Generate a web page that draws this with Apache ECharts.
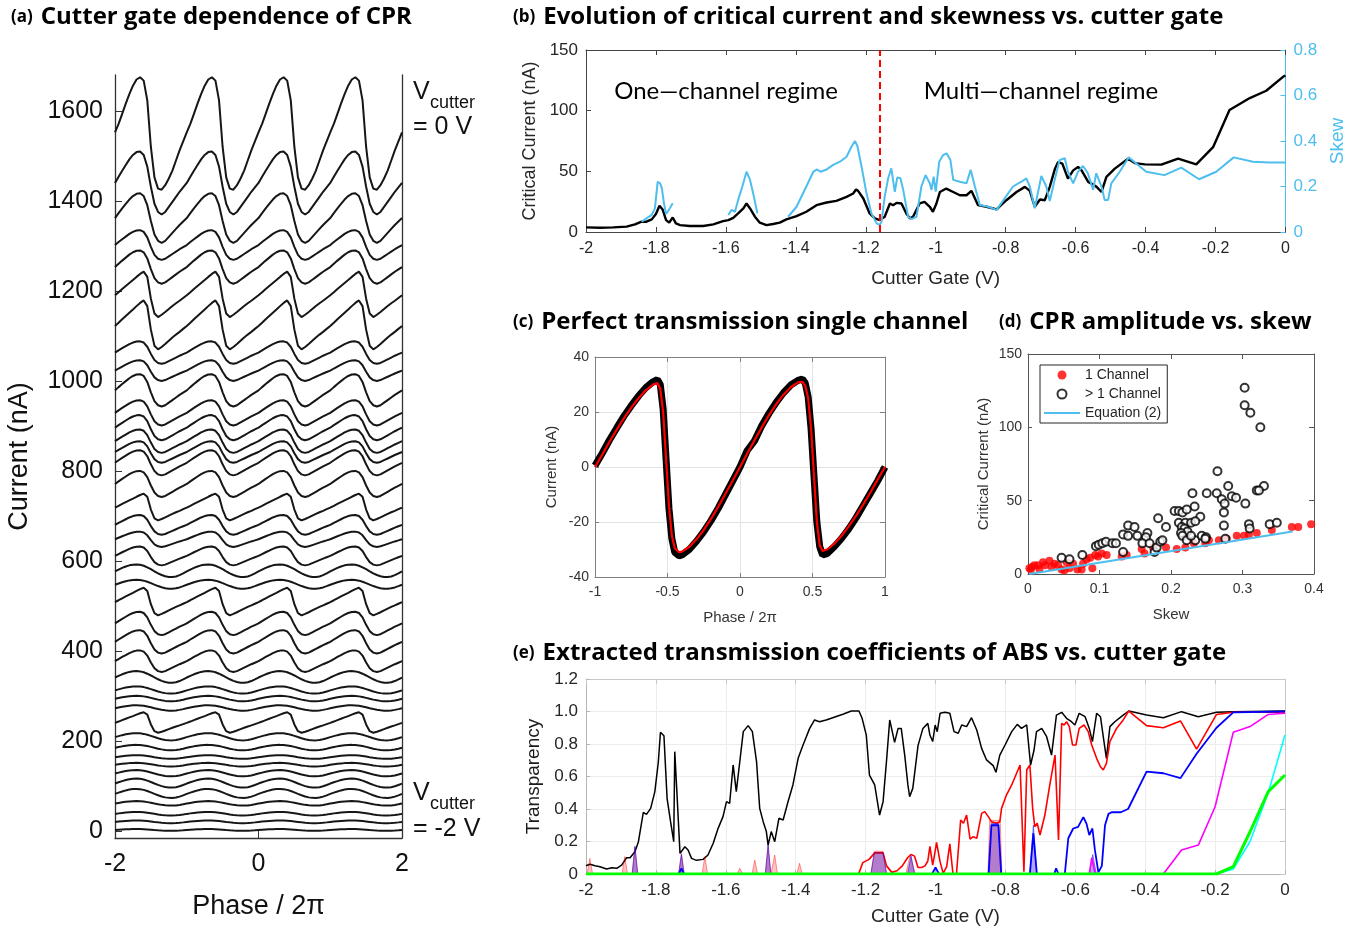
<!DOCTYPE html>
<html><head><meta charset="utf-8">
<script src="https://cdn.jsdelivr.net/npm/echarts@6/dist/echarts.min.js"></script>
<style>html,body{margin:0;padding:0;background:#fff}#c{width:1355px;height:933px}</style>
</head><body><div id="c"></div>
<script>
// ---------- (a) CPR traces ----------
const aLevels = [1550,1440,1362,1302,1253,1193,1125,1063,1023,979,929,896,866,842,818,771,720,680,648,611,578,548,510,461,420,377,342,313,294,273,241,209,185,164,147,128,106,83,61,38,20,2];
const aAmps   = [125,70,55,33,37,51,55,25,23,36,28,28,26,24,28,29,30,22,17,21,14,10,31,26,26,24,13,8,6,6,23,8,6,4,4,7,10,10,5,4,3,2];
const aShapes = ['T','M','M','M','M','S','S','M','M','M','M','M','M','M','M','M','S','M','M','M','W','W','S','M','M','M','W','W','W','W','S','W','W','W','W','W','W','W','W','W','W','W'];
// one period of each trace shape (21 samples, normalised)
const shapeT = [0.02,0.17,0.35,0.53,0.70,0.85,0.96,1.0,0.94,0.59,-0.24,-0.78,-0.98,-1.0,-0.92,-0.80,-0.66,-0.48,-0.30,-0.14,0.02];
const shapeM = [0.0,0.2,0.39,0.57,0.75,0.89,0.98,1.0,0.89,0.52,-0.12,-0.66,-0.92,-1.0,-0.92,-0.76,-0.6,-0.44,-0.28,-0.14,0.0];
const shapeS = [-0.05,0.08,0.22,0.35,0.48,0.61,0.75,0.88,0.98,0.75,-0.2,-0.85,-1.0,-0.9,-0.78,-0.65,-0.52,-0.4,-0.29,-0.17,-0.05];
const shapeW = [-0.1,0.18,0.45,0.68,0.86,0.97,1.0,0.95,0.8,0.55,0.25,-0.08,-0.4,-0.67,-0.87,-0.98,-1.0,-0.9,-0.7,-0.42,-0.1];
const aTicks = [0,200,400,600,800,1000,1200,1400,1600];

// ---------- (b) critical current & skew vs gate ----------
const bIc = [[-2,3.8],[-1.96,3.5],[-1.922,3.8],[-1.884,4.4],[-1.86,6.3],[-1.841,8.5],[-1.827,8.5],[-1.812,10.4],[-1.8,14.8],[-1.79,21.6],[-1.781,18.6],[-1.771,9.8],[-1.762,7.7],[-1.752,12],[-1.743,7.1],[-1.731,5.7],[-1.703,4.9],[-1.665,4.9],[-1.636,6.3],[-1.608,9],[-1.593,9.8],[-1.579,11.7],[-1.565,15.3],[-1.55,19.4],[-1.541,23.5],[-1.531,19.4],[-1.517,12.6],[-1.503,7.7],[-1.484,5.7],[-1.465,6.6],[-1.446,7.7],[-1.427,10.4],[-1.398,13.1],[-1.37,16.7],[-1.341,22.1],[-1.312,24.3],[-1.284,25.7],[-1.255,29],[-1.236,31.7],[-1.228,35],[-1.222,33.9],[-1.207,27.6],[-1.189,15.3],[-1.174,11.2],[-1.16,9.8],[-1.146,12.6],[-1.131,23.5],[-1.122,22.1],[-1.112,24],[-1.098,23.5],[-1.084,15.3],[-1.074,11.2],[-1.065,12.6],[-1.046,23.5],[-1.032,24.9],[-1.017,20.8],[-1.008,16.7],[-0.998,23.5],[-0.988,33],[-0.97,35.8],[-0.95,33],[-0.931,30.3],[-0.912,30.3],[-0.898,33.9],[-0.879,22.1],[-0.855,20.8],[-0.826,18.6],[-0.798,26.2],[-0.769,33],[-0.745,37.2],[-0.731,33.9],[-0.717,20.8],[-0.702,26.8],[-0.688,26.2],[-0.674,37.2],[-0.659,52.2],[-0.65,57.7],[-0.638,56.3],[-0.622,44],[-0.607,50.8],[-0.593,53.6],[-0.583,50.8],[-0.564,41.3],[-0.555,39.9],[-0.54,37.2],[-0.526,33],[-0.512,45.4],[-0.488,52.2],[-0.45,60.4],[-0.431,56.8],[-0.402,55.7],[-0.355,55.5],[-0.307,60.4],[-0.255,55.7],[-0.207,69.9],[-0.16,100.5],[-0.102,110.4],[-0.055,116.4],[-0.007,127.9],[0,129]];
const bSkew = [[-1.841,0.045],[-1.827,0.06],[-1.812,0.075],[-1.803,0.104],[-1.795,0.221],[-1.788,0.214],[-1.783,0.192],[-1.777,0.126],[-1.771,0.079],[-1.762,0.1],[-1.752,0.126],[-1.7,'-'],
 [-1.593,0.075],[-1.584,0.097],[-1.574,0.089],[-1.565,0.141],[-1.553,0.2],[-1.541,0.265],[-1.531,0.229],[-1.522,0.17],[-1.51,0.082],[-1.47,'-'],
 [-1.422,0.067],[-1.398,0.111],[-1.37,0.2],[-1.35,0.265],[-1.339,0.275],[-1.33,0.265],[-1.312,0.275],[-1.293,0.295],[-1.274,0.309],[-1.255,0.331],[-1.241,0.375],[-1.231,0.4],[-1.224,0.378],[-1.212,0.287],[-1.198,0.17],[-1.184,0.082],[-1.169,0.038],[-1.16,0.031],[-1.155,0.045],[-1.146,0.155],[-1.136,0.236],[-1.127,0.28],[-1.117,0.177],[-1.11,0.24],[-1.101,0.236],[-1.093,0.185],[-1.079,0.067],[-1.069,0.057],[-1.055,0.067],[-1.041,0.2],[-1.029,0.25],[-1.017,0.214],[-1.012,0.185],[-1.006,0.243],[-1.0,0.177],[-0.99,0.309],[-0.979,0.338],[-0.969,0.346],[-0.958,0.316],[-0.95,0.229],[-0.931,0.221],[-0.912,0.214],[-0.9,0.273],[-0.888,0.2],[-0.874,0.119],[-0.85,0.111],[-0.826,0.097],[-0.803,0.148],[-0.779,0.2],[-0.755,0.221],[-0.741,0.236],[-0.731,0.2],[-0.717,0.104],[-0.698,0.246],[-0.684,0.2],[-0.674,0.136],[-0.66,0.229],[-0.646,0.316],[-0.631,0.324],[-0.622,0.265],[-0.607,0.214],[-0.593,0.265],[-0.579,0.29],[-0.565,0.258],[-0.55,0.185],[-0.541,0.258],[-0.526,0.2],[-0.517,0.141],[-0.507,0.141],[-0.498,0.214],[-0.474,0.265],[-0.448,0.328],[-0.398,0.265],[-0.346,0.25],[-0.298,0.283],[-0.247,0.232],[-0.198,0.265],[-0.148,0.328],[-0.093,0.309],[-0.046,0.305],[0,0.305]];
const bBoundaryV = -1.16;

// ---------- (c) perfect transmission CPR ----------
const cPhase = [-1,-0.95,-0.9,-0.85,-0.8,-0.75,-0.7,-0.65,-0.6,-0.57,-0.55,-0.53,-0.51,-0.49,-0.47,-0.45,-0.42,-0.4,-0.35,-0.3,-0.25,-0.2,-0.15,-0.1,-0.05,0,0.05,0.1,0.15,0.2,0.25,0.3,0.35,0.4,0.43,0.45,0.47,0.49,0.51,0.53,0.55,0.57,0.6,0.65,0.7,0.75,0.8,0.85,0.9,0.95,1];
const cMeas  = [0.5,5,9.8,14.2,18.5,22.3,25.8,28.8,31,31.8,30,21,3,-15,-26,-31,-32.3,-32,-30,-27,-23.5,-19.5,-15,-10,-5,0,6,9.5,15,19.5,23.5,27,29.8,31.5,32,30.5,25.5,14,-3,-20,-29,-32,-31.5,-29,-26,-22.5,-18.5,-14,-9.5,-5,0];
const cFit   = [0,4.5,9.2,13.6,17.8,21.6,25,27.9,30,30.5,28.5,20,3,-14,-25,-29.5,-31,-30.8,-29,-26.3,-22.9,-18.9,-14.4,-9.7,-4.9,0,4.9,9.7,14.4,18.9,22.9,26.3,29,30.8,31,29.5,25,14,-3,-20,-28.5,-30.5,-30,-27.9,-25,-21.6,-17.8,-13.6,-9.2,-4.5,0];

// ---------- (d) amplitude vs skew ----------
const d1Skew = [0.002,0.004,0.006,0.009,0.014,0.016,0.021,0.024,0.03,0.033,0.037,0.042,0.047,0.051,0.054,0.058,0.063,0.069,0.075,0.077,0.082,0.087,0.09,0.094,0.098,0.103,0.11,0.131,0.138,0.159,0.163,0.175,0.193,0.208,0.22,0.232,0.248,0.253,0.267,0.278,0.292,0.302,0.309,0.32,0.341,0.369,0.378,0.396];
const d1Ic   = [4,3,5,6,6,3.4,8,6,9,5,7,6,3,2.5,8,4,7,3,3,7,10,11,4,13,12,14,13,12,13,17,14,18,18,17,18,21,21,23,23,24,26,26,27,28,30,32,32,34];
const dMSkew = [0.303,0.303,0.311,0.325,0.265,0.28,0.33,0.32,0.323,0.23,0.25,0.264,0.285,0.291,0.271,0.275,0.304,0.233,0.205,0.211,0.216,0.222,0.274,0.182,0.241,0.211,0.22,0.228,0.234,0.14,0.149,0.193,0.167,0.215,0.219,0.223,0.133,0.14,0.153,0.165,0.214,0.216,0.222,0.234,0.243,0.249,0.274,0.309,0.31,0.338,0.348,0.276,0.248,0.095,0.099,0.104,0.109,0.118,0.123,0.133,0.16,0.17,0.177,0.18,0.185,0.188,0.047,0.058,0.076,0.228];
const dMIc   = [127,115,110,100,70,60,60,57,57,55,55,55,53,52,51,48,48,46,43,43,42,44,42,38,39,35,35,35,36,33,32,32,28,32,31,29,27,26,26,25,28,26,23,23,26,25,33,34,31,34,35,24,24,19,20,21,22,21,21,15,21,21,15,18,22,23,11,10,13,26];
const dEqSkew = [0.002,0.37];
const dEqIc   = [0,29];

// ---------- (e) transmission coefficients ----------
const eBlack = [[-2,0.051],[-1.989,0.06],[-1.974,0.051],[-1.96,0.045],[-1.941,0.031],[-1.926,0.039],[-1.912,0.035],[-1.898,0.055],[-1.884,0.1],[-1.874,0.1],[-1.86,0.137],[-1.85,0.199],[-1.836,0.379],[-1.827,0.367],[-1.815,0.404],[-1.803,0.507],[-1.793,0.691],[-1.787,0.872],[-1.777,0.851],[-1.768,0.466],[-1.758,0.322],[-1.749,0.199],[-1.746,0.753],[-1.741,0.548],[-1.731,0.127],[-1.717,0.168],[-1.708,0.148],[-1.698,0.096],[-1.684,0.084],[-1.665,0.09],[-1.651,0.117],[-1.636,0.189],[-1.622,0.281],[-1.608,0.353],[-1.598,0.445],[-1.589,0.435],[-1.579,0.671],[-1.57,0.507],[-1.56,0.691],[-1.55,0.876],[-1.536,0.913],[-1.524,0.876],[-1.512,0.691],[-1.503,0.404],[-1.493,0.322],[-1.484,0.261],[-1.479,0.178],[-1.47,0.261],[-1.46,0.199],[-1.448,0.343],[-1.436,0.332],[-1.422,0.445],[-1.408,0.548],[-1.393,0.712],[-1.379,0.794],[-1.36,0.896],[-1.346,0.948],[-1.332,0.937],[-1.313,0.948],[-1.294,0.962],[-1.265,0.983],[-1.241,1.003],[-1.219,1.003],[-1.21,0.958],[-1.198,0.855],[-1.189,0.609],[-1.174,0.548],[-1.16,0.363],[-1.15,0.445],[-1.14,0.7],[-1.131,0.948],[-1.117,0.81],[-1.107,0.896],[-1.098,0.896],[-1.088,0.73],[-1.079,0.548],[-1.074,0.476],[-1.065,0.527],[-1.05,0.79],[-1.036,0.896],[-1.022,0.927],[-1.016,0.855],[-1.008,0.815],[-1.001,0.917],[-0.995,0.876],[-0.987,0.989],[-0.973,0.995],[-0.959,0.989],[-0.947,0.876],[-0.935,0.866],[-0.925,0.917],[-0.911,0.907],[-0.897,0.962],[-0.882,0.886],[-0.868,0.773],[-0.854,0.702],[-0.835,0.667],[-0.827,0.626],[-0.816,0.732],[-0.801,0.794],[-0.782,0.876],[-0.766,0.921],[-0.754,0.896],[-0.739,0.917],[-0.728,0.671],[-0.718,0.763],[-0.711,0.876],[-0.696,0.896],[-0.682,0.845],[-0.668,0.732],[-0.654,0.978],[-0.639,0.995],[-0.625,0.958],[-0.611,0.937],[-0.601,0.917],[-0.589,0.989],[-0.572,0.968],[-0.56,0.896],[-0.551,0.815],[-0.539,0.989],[-0.528,0.968],[-0.52,0.845],[-0.511,0.712],[-0.501,0.907],[-0.487,0.937],[-0.463,0.978],[-0.447,1.003],[-0.396,0.978],[-0.348,0.962],[-0.296,0.999],[-0.248,0.968],[-0.196,0.995],[-0.148,0.999],[0,1.003]];
const eRed = [[-1.22,0],[-1.208,0.07],[-1.19,0.09],[-1.174,0.13],[-1.15,0.13],[-1.14,0.05],[-1.125,0.01],[-1.11,0.02],[-1.095,0.05],[-1.08,0.1],[-1.07,0.12],[-1.06,0.11],[-1.05,0.04],[-1.04,0.04],[-1.03,0.05],[-1.022,0.08],[-1.016,0.17],[-1.008,0.055],[-1.002,0.127],[-0.997,0.195],[-0.987,0.076],[-0.978,0.004],[-0.968,0.045],[-0.959,0.185],[-0.95,0],[-0.94,0],[-0.928,0.332],[-0.92,0.312],[-0.911,0.363],[-0.901,0.215],[-0.892,0.23],[-0.882,0.219],[-0.868,0.373],[-0.859,0.384],[-0.849,0.353],[-0.84,0.322],[-0.825,0.312],[-0.816,0.322],[-0.811,0.404],[-0.797,0.486],[-0.782,0.548],[-0.77,0.609],[-0.758,0.671],[-0.747,0.014],[-0.739,0.64],[-0.73,0.671],[-0.722,0.404],[-0.716,0.291],[-0.709,0.312],[-0.701,0.24],[-0.687,0.363],[-0.673,0.548],[-0.658,0.732],[-0.648,0.209],[-0.639,0.927],[-0.632,0.917],[-0.625,0.937],[-0.617,0.907],[-0.608,0.794],[-0.598,0.794],[-0.589,0.896],[-0.575,0.917],[-0.563,0.876],[-0.553,0.794],[-0.539,0.712],[-0.528,0.66],[-0.52,0.64],[-0.511,0.681],[-0.501,0.815],[-0.482,0.896],[-0.463,0.948],[-0.447,1.003],[-0.396,0.913],[-0.348,0.9],[-0.299,0.942],[-0.253,0.769],[-0.196,0.982],[-0.148,0.995],[0,0.995]];
const eRedShade = [[-1.997,0],[-1.989,0.096],[-1.981,0],[-1.9,'-'],[-1.897,0],[-1.889,0.107],[-1.881,0],[-1.87,'-'],[-1.868,0],[-1.86,0.168],[-1.852,0],[-1.8,'-'],[-1.735,0],[-1.727,0.127],[-1.719,0],[-1.7,'-'],[-1.668,0],[-1.66,0.107],[-1.652,0],[-1.6,'-'],[-1.568,0],[-1.56,0.035],[-1.552,0],[-1.54,'-'],[-1.525,0],[-1.517,0.086],[-1.509,0],[-1.5,'-'],[-1.487,0],[-1.479,0.178],[-1.471,0],[-1.468,0],[-1.46,0.117],[-1.452,0],[-1.42,'-'],[-1.397,0],[-1.389,0.066],[-1.381,0],[-1.3,'-'],[-1.185,0],[-1.175,0.14],[-1.15,0.14],[-1.14,0],[-1.1,'-'],[-1.085,0],[-1.072,0.12],[-1.058,0],[-0.9,'-'],[-0.85,0],[-0.845,0.33],[-0.815,0.33],[-0.81,0]];
const eBlueShade = [[-1.868,0],[-1.86,0.17],[-1.852,0],[-1.8,'-'],[-1.735,0],[-1.727,0.12],[-1.719,0],[-1.6,'-'],[-1.487,0],[-1.479,0.18],[-1.471,0],[-1.3,'-'],[-1.185,0],[-1.175,0.13],[-1.15,0.13],[-1.14,0],[-1.1,'-'],[-1.08,0],[-1.07,0.11],[-1.06,0],[-0.9,'-'],[-0.848,0],[-0.84,0.31],[-0.82,0.31],[-0.812,0],[-0.78,'-'],[-0.73,0],[-0.72,0.3],[-0.71,0],[-0.6,'-'],[-0.56,0],[-0.55,0.12],[-0.54,0]];
const eBlue = [[-2,0],[-1.735,0],[-1.727,0.035],[-1.72,0],[-1.66,0],[-1.655,0.0],[-1.01,0],[-1.0,0.04],[-0.99,0],[-0.848,0],[-0.84,0.3],[-0.83,0.3],[-0.82,0.3],[-0.812,0],[-0.73,0],[-0.72,0.25],[-0.71,0],[-0.66,0],[-0.655,0.035],[-0.648,0],[-0.63,0],[-0.62,0.22],[-0.606,0.28],[-0.592,0.29],[-0.577,0.35],[-0.568,0.31],[-0.56,0.24],[-0.551,0.28],[-0.544,0.15],[-0.534,0.01],[-0.524,0.05],[-0.515,0.3],[-0.505,0.37],[-0.496,0.38],[-0.47,0.38],[-0.449,0.4],[-0.396,0.63],[-0.348,0.62],[-0.299,0.59],[-0.253,0.74],[-0.196,0.9],[-0.148,0.995],[0,1.0]];
const eMagenta = [[-2,0],[-0.56,0],[-0.553,0.1],[-0.545,0.02],[-0.54,0],[-0.36,0],[-0.348,0],[-0.296,0.148],[-0.248,0.178],[-0.2,0.414],[-0.148,0.872],[-0.1,0.907],[-0.048,0.982],[0,0.989]];
const eCyan = [[-2,0],[-0.2,0],[-0.148,0.03],[-0.1,0.2],[-0.048,0.5],[0,0.855]];
const eGreen = [[-2,0],[-0.196,0],[-0.148,0.045],[-0.1,0.26],[-0.048,0.507],[0,0.609]];

// ---------- build ----------
const FF = 'Liberation Sans';
const TF = 'Open Sans';
const RF = 'Lato';
const templates = {T: shapeT, M: shapeM, S: shapeS, W: shapeW};
function buildTrace(level, amp, shape) {
  const tpl = templates[shape], pts = [];
  for (let p = 0; p < 4; p++) for (let i = 0; i < 20; i++) pts.push([-2 + p + i * 0.05, level + amp * tpl[i]]);
  pts.push([2, level + amp * tpl[20]]);
  return pts;
}
const zip = (a, b) => a.map((v, i) => [v, b[i]]);
const fmtDec = v => { const r = Math.round(v * 10) / 10; return r === 0 ? '0' : String(r); };

const chart = echarts.init(document.getElementById('c'), null, {renderer: 'canvas'});

function boxAxis(gridIndex, pos, min, max, interval, color) {
  return {gridIndex, type: 'value', position: pos, min, max, interval,
    axisLine: {show: true, onZero: false, lineStyle: {color, width: 1}},
    axisTick: {show: true, inside: true, length: 5, lineStyle: {color}},
    axisLabel: {show: false}, splitLine: {show: false}};
}

const xAxis = [
  {gridIndex: 0, type: 'value', min: -2, max: 2, interval: 2,
   axisLine: {onZero: false, lineStyle: {color: '#333', width: 1.3}},
   axisTick: {inside: true, length: 7, lineStyle: {color: '#333'}},
   axisLabel: {fontSize: 25, color: '#111', margin: 14, fontFamily: FF},
   splitLine: {show: false},
   name: 'Phase / 2π', nameLocation: 'middle', nameGap: 55, nameTextStyle: {fontSize: 27, color: '#111', fontFamily: FF}},
  {gridIndex: 1, type: 'value', min: -2, max: 0, interval: 0.2,
   axisLine: {onZero: false, lineStyle: {color: '#444'}},
   axisTick: {inside: true, length: 5, lineStyle: {color: '#444'}},
   axisLabel: {fontSize: 16, color: '#262626', margin: 9, fontFamily: FF, formatter: fmtDec},
   splitLine: {show: false},
   name: 'Cutter Gate (V)', nameLocation: 'middle', nameGap: 37, nameTextStyle: {fontSize: 19, color: '#262626', fontFamily: FF}},
  boxAxis(1, 'top', -2, 0, 0.2, '#444'),
  {gridIndex: 2, type: 'value', min: -1, max: 1, interval: 0.5,
   axisLine: {onZero: false, lineStyle: {color: '#808080'}},
   axisTick: {inside: true, length: 4, lineStyle: {color: '#808080'}},
   axisLabel: {fontSize: 14, color: '#333', margin: 8, fontFamily: FF},
   splitLine: {show: true, lineStyle: {color: '#e3e3e3'}},
   name: 'Phase / 2π', nameLocation: 'middle', nameGap: 33, nameTextStyle: {fontSize: 15, color: '#333', fontFamily: FF}},
  boxAxis(2, 'top', -1, 1, 0.5, '#808080'),
  {gridIndex: 3, type: 'value', min: 0, max: 0.4, interval: 0.1,
   axisLine: {onZero: false, lineStyle: {color: '#555'}},
   axisTick: {inside: true, length: 4, lineStyle: {color: '#555'}},
   axisLabel: {fontSize: 14, color: '#333', margin: 8, fontFamily: FF},
   splitLine: {show: false},
   name: 'Skew', nameLocation: 'middle', nameGap: 33, nameTextStyle: {fontSize: 15, color: '#333', fontFamily: FF}},
  boxAxis(3, 'top', 0, 0.4, 0.1, '#555'),
  {gridIndex: 4, type: 'value', min: -2, max: 0, interval: 0.2,
   axisLine: {onZero: false, lineStyle: {color: '#b5b5b5'}},
   axisTick: {inside: true, length: 4, lineStyle: {color: '#b5b5b5'}},
   axisLabel: {fontSize: 17, color: '#262626', margin: 8, fontFamily: FF, formatter: fmtDec},
   splitLine: {show: true, lineStyle: {color: '#ececec'}},
   name: 'Cutter Gate (V)', nameLocation: 'middle', nameGap: 33, nameTextStyle: {fontSize: 19, color: '#262626', fontFamily: FF}},
  boxAxis(4, 'top', -2, 0, 0.2, '#c8c8c8')
];

const yAxis = [
  {gridIndex: 0, type: 'value', min: -16, max: 1680,
   axisLine: {show: true, onZero: false, lineStyle: {color: '#333', width: 1.3}},
   axisTick: {show: true, inside: true, length: 7, customValues: aTicks, lineStyle: {color: '#333'}},
   axisLabel: {fontSize: 25, color: '#111', margin: 12, fontFamily: FF, customValues: aTicks, formatter: v => String(v)},
   splitLine: {show: false},
   name: 'Current (nA)', nameLocation: 'middle', nameGap: 82, nameTextStyle: {fontSize: 27, color: '#111', fontFamily: FF}},
  {gridIndex: 0, type: 'value', position: 'right', min: -16, max: 1680,
   axisLine: {show: true, onZero: false, lineStyle: {color: '#333', width: 1.3}},
   axisTick: {show: false}, axisLabel: {show: false}, splitLine: {show: false}},
  {gridIndex: 1, type: 'value', min: 0, max: 150, interval: 50,
   axisLine: {show: true, onZero: false, lineStyle: {color: '#444'}},
   axisTick: {show: true, inside: true, length: 5, lineStyle: {color: '#444'}},
   axisLabel: {fontSize: 17, color: '#262626', margin: 8, fontFamily: FF},
   splitLine: {show: false},
   name: 'Critical Current (nA)', nameLocation: 'middle', nameGap: 44, nameTextStyle: {fontSize: 18, color: '#262626', fontFamily: FF}},
  {gridIndex: 1, type: 'value', position: 'right', min: 0, max: 0.8, interval: 0.2,
   axisLine: {show: true, onZero: false, lineStyle: {color: '#4DBEEE'}},
   axisTick: {show: true, inside: true, length: 5, lineStyle: {color: '#4DBEEE'}},
   axisLabel: {fontSize: 17, color: '#4DBEEE', margin: 8, fontFamily: FF, formatter: fmtDec},
   splitLine: {show: false},
   name: 'Skew', nameLocation: 'middle', nameGap: 40, nameTextStyle: {fontSize: 19, color: '#4DBEEE', fontFamily: FF}},
  {gridIndex: 2, type: 'value', min: -40, max: 40, interval: 20,
   axisLine: {show: true, onZero: false, lineStyle: {color: '#808080'}},
   axisTick: {show: true, inside: true, length: 4, lineStyle: {color: '#808080'}},
   axisLabel: {fontSize: 14, color: '#333', margin: 6, fontFamily: FF},
   splitLine: {show: true, lineStyle: {color: '#e3e3e3'}},
   name: 'Current (nA)', nameLocation: 'middle', nameGap: 36, nameTextStyle: {fontSize: 15, color: '#333', fontFamily: FF}},
  boxAxis(2, 'right', -40, 40, 20, '#808080'),
  {gridIndex: 3, type: 'value', min: 0, max: 150, interval: 50,
   axisLine: {show: true, onZero: false, lineStyle: {color: '#555'}},
   axisTick: {show: true, inside: true, length: 4, lineStyle: {color: '#555'}},
   axisLabel: {fontSize: 14, color: '#333', margin: 6, fontFamily: FF},
   splitLine: {show: false},
   name: 'Critical Current (nA)', nameLocation: 'middle', nameGap: 37, nameTextStyle: {fontSize: 15, color: '#333', fontFamily: FF}},
  boxAxis(3, 'right', 0, 150, 50, '#555'),
  {gridIndex: 4, type: 'value', min: 0, max: 1.2, interval: 0.2,
   axisLine: {show: true, onZero: false, lineStyle: {color: '#b5b5b5'}},
   axisTick: {show: true, inside: true, length: 4, lineStyle: {color: '#b5b5b5'}},
   axisLabel: {fontSize: 17, color: '#262626', margin: 8, fontFamily: FF, formatter: v => v === 0 ? '0' : v.toFixed(1)},
   splitLine: {show: true, lineStyle: {color: '#ececec'}},
   name: 'Transparency', nameLocation: 'middle', nameGap: 34, nameTextStyle: {fontSize: 19, color: '#1a1a1a', fontFamily: FF}},
  boxAxis(4, 'right', 0, 1.2, 0.2, '#c8c8c8')
];

const series = [];
aLevels.forEach((lv, k) => {
  series.push({type: 'line', xAxisIndex: 0, yAxisIndex: 0, showSymbol: false, symbol: 'none', silent: true,
    lineStyle: {color: '#161616', width: 2}, data: buildTrace(lv, aAmps[k], aShapes[k])});
});
// (b)
series.push({type: 'line', name: 'Ic', xAxisIndex: 1, yAxisIndex: 2, symbol: 'none', lineStyle: {color: '#000', width: 2.4}, data: bIc,
  markLine: {silent: true, symbol: 'none', label: {show: false}, lineStyle: {color: '#ff0000', type: [7, 4], width: 2}, data: [{xAxis: bBoundaryV}]}});
series.push({type: 'line', name: 'Skew', xAxisIndex: 1, yAxisIndex: 3, symbol: 'none', connectNulls: false, lineStyle: {color: '#4DBEEE', width: 2}, data: bSkew});
// (c)
series.push({type: 'line', xAxisIndex: 3, yAxisIndex: 4, symbol: 'none', lineStyle: {color: '#000', width: 7}, data: zip(cPhase, cMeas)});
series.push({type: 'line', xAxisIndex: 3, yAxisIndex: 4, symbol: 'none', lineStyle: {color: '#ff0000', width: 2.2}, data: zip(cPhase, cFit)});
// (d)
series.push({type: 'scatter', name: '1 Channel', xAxisIndex: 5, yAxisIndex: 6, symbol: 'circle', symbolSize: 8, itemStyle: {color: '#ff0000'}, data: zip(d1Skew, d1Ic)});
series.push({type: 'scatter', name: '> 1 Channel', xAxisIndex: 5, yAxisIndex: 6, symbol: 'emptyCircle', symbolSize: 8, itemStyle: {color: '#000', borderColor: '#000', borderWidth: 1.8}, data: zip(dMSkew, dMIc)});
series.push({type: 'line', name: 'Equation (2)', xAxisIndex: 5, yAxisIndex: 6, symbol: 'none', lineStyle: {color: '#4DBEEE', width: 2}, itemStyle: {color: '#4DBEEE'}, data: zip(dEqSkew, dEqIc)});
// (e)
const eLine = (data, color, width, extra) => Object.assign({type: 'line', xAxisIndex: 7, yAxisIndex: 8, symbol: 'none', connectNulls: false, lineStyle: {color, width}, data}, extra || {});
series.push(eLine(eBlack, '#000', 1.5));
series.push(eLine(eRedShade, 'rgba(255,0,0,0.5)', 0.8, {areaStyle: {color: 'rgba(255,60,60,0.45)'}}));
series.push(eLine(eRed, '#ff0000', 1.6));
series.push(eLine(eBlueShade, 'rgba(0,0,255,0.6)', 0.8, {areaStyle: {color: 'rgba(40,0,220,0.5)'}}));
series.push(eLine(eBlue, '#0000ff', 1.8));
series.push(eLine(eMagenta, '#ff00ff', 1.6));
series.push(eLine(eCyan, '#00ffff', 1.6));
series.push(eLine(eGreen, '#00ff00', 3));

const titleRich = {p: {fontSize: 17, fontWeight: 'bold', fontFamily: TF, color: '#000', padding: [0, 3, 0, 0]}, t: {fontSize: 24, fontWeight: 'bold', fontFamily: TF, color: '#000'}};
const mkTitle = (left, top, tag, txt) => ({left, top, text: '{p|' + tag + '} {t|' + txt + '}', textStyle: {rich: titleRich}});

const txt = (x, y, text, size, extra) => ({type: 'text', x, y, silent: true, style: Object.assign({text, fontSize: size, fontFamily: FF, fill: '#111', verticalAlign: 'middle', align: 'left'}, extra || {})});

chart.setOption({
  animation: false,
  backgroundColor: '#fff',
  title: [
    mkTitle(6, 0, '(a)', 'Cutter gate dependence of CPR'),
    mkTitle(508, 0, '(b)', 'Evolution of critical current and skewness vs. cutter gate'),
    mkTitle(508, 305, '(c)', 'Perfect transmission single channel'),
    mkTitle(994, 305, '(d)', 'CPR amplitude vs. skew'),
    mkTitle(508, 636, '(e)', 'Extracted transmission coefficients of ABS vs. cutter gate')
  ],
  grid: [
    {left: 115, top: 75, width: 287, height: 763},
    {left: 586, top: 50, width: 700, height: 182},
    {left: 595, top: 357, width: 290, height: 220},
    {left: 1028, top: 354, width: 286, height: 220},
    {left: 586, top: 679, width: 699, height: 195}
  ],
  legend: {left: 1040, top: 365, orient: 'vertical', itemWidth: 36, itemHeight: 9, itemGap: 5,
    padding: [3, 6, 3, 4], borderColor: '#262626', borderWidth: 1, backgroundColor: '#fff',
    textStyle: {fontSize: 14, color: '#262626', fontFamily: FF},
    data: ['1 Channel', '> 1 Channel', {name: 'Equation (2)', icon: 'path://M0,0 H36 V2 H0 Z'}]},
  xAxis, yAxis, series,
  graphic: [
    txt(413, 92, 'V', 25), txt(430, 103, 'cutter', 18), txt(413, 127, '= 0 V', 25),
    txt(413, 793, 'V', 25), txt(430, 804, 'cutter', 18), txt(413, 829, '= -2 V', 25),
    txt(726, 91, 'One\u2014channel regime', 24, {fontFamily: RF, align: 'center', fill: '#000'}),
    txt(1041, 91, 'Multi\u2014channel regime', 24, {fontFamily: RF, align: 'center', fill: '#000'})
  ]
});
</script></body></html>
